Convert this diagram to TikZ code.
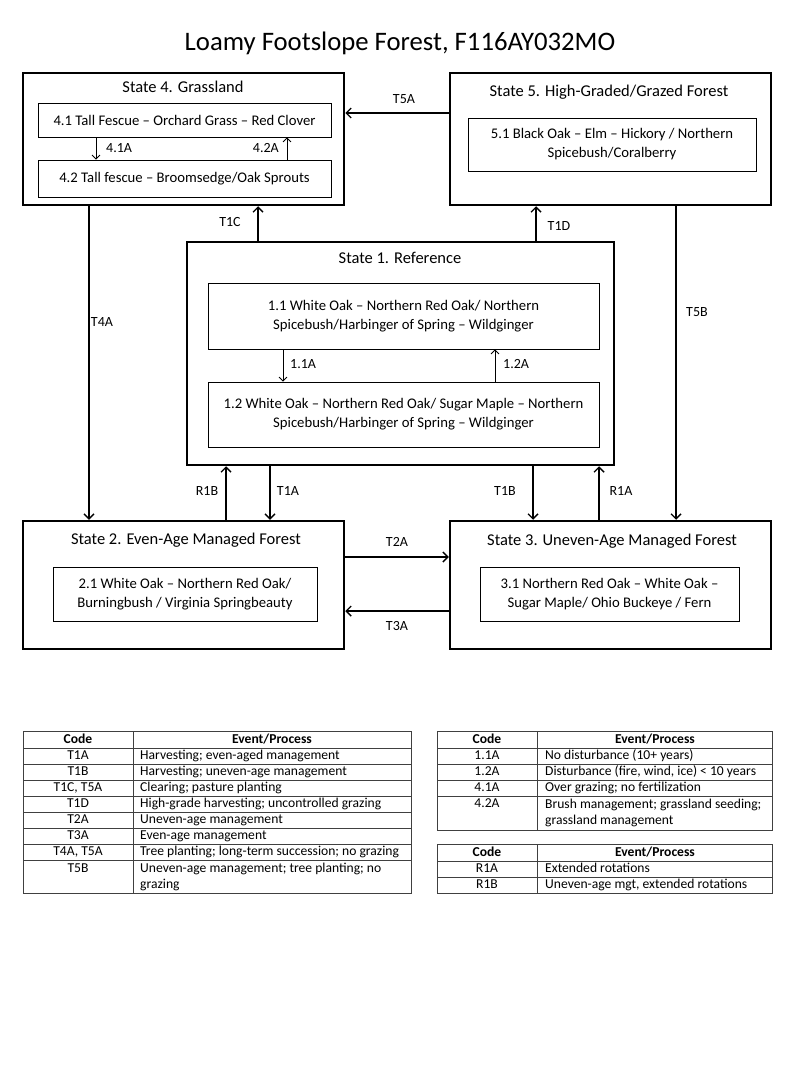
\documentclass[tikz,border=0pt]{standalone}
\usepackage{fontspec}
\setmainfont{Carlito}
\usetikzlibrary{arrows.meta}
\begin{document}
\begin{tikzpicture}[x=1pt,y=-1pt,
  statebox/.style={draw,line width=2.5pt,inner sep=0pt},
  phasebox/.style={draw,line width=0.8pt,align=center,inner sep=0pt,font=\fontsize{14.7}{19}\selectfont},
  statetitle/.style={font=\fontsize{16.5}{19}\selectfont,inner sep=0pt,text height=11pt,text depth=3.5pt},
  bigarrow/.style={line width=1.4pt,-{Straight Barb[length=5pt,width=10pt,line width=1.4pt]}},
  smallarrow/.style={line width=0.8pt,-{Straight Barb[length=4pt,width=8pt,line width=0.8pt]}},
  lbl/.style={font=\fontsize{14}{16}\selectfont,inner sep=0pt,text height=9.5pt,text depth=3pt},
  grid/.style={line width=0.9pt,draw=black!75},
  codecell/.style={font=\fontsize{13.6}{16}\selectfont,inner sep=0pt,text height=9.5pt,text depth=3pt},
  evcell/.style={font=\fontsize{13.6}{16}\selectfont,inner sep=0pt,anchor=west,text height=9.5pt,text depth=3pt},
  evcelltwo/.style={font=\fontsize{13.6}{16}\selectfont,inner sep=0pt,anchor=north west,align=left},
  headcell/.style={font=\bfseries\fontsize{13.6}{16}\selectfont,inner sep=0pt,text height=9.5pt,text depth=3pt}
]
\useasboundingbox (0,0) rectangle (800,1067);
\fill[white] (0,0) rectangle (800,1067);

% title
\node[font=\fontsize{26.7}{30}\selectfont,inner sep=0pt] (title) at (400,43) {Loamy Footslope Forest, F116AY032MO};

% states
\node[statebox,minimum width=321pt,minimum height=132pt] (s4) at (183.5,139) {};
\node[statebox,minimum width=321pt,minimum height=132pt] (s5) at (610.5,139) {};
\node[statebox,minimum width=427pt,minimum height=223pt] (s1) at (400.5,353.5) {};
\node[statebox,minimum width=321pt,minimum height=128pt] (s2) at (183.5,585) {};
\node[statebox,minimum width=321pt,minimum height=128pt] (s3) at (610.5,585) {};

\node[statetitle] (s4t) at (183,89) {State 4. Grassland};
\node[statetitle] (s5t) at (609,93) {State 5. High-Graded/Grazed Forest};
\node[statetitle] (s1t) at (400,260) {State 1. Reference};
\node[statetitle] (s2t) at (186,541) {State 2. Even-Age Managed Forest};
\node[statetitle] (s3t) at (612,542) {State 3. Uneven-Age Managed Forest};

% phases
\node[phasebox,minimum width=293pt,minimum height=34pt] (p41) at (184.5,120) {4.1 Tall Fescue -- Orchard Grass -- Red Clover};
\node[phasebox,minimum width=293pt,minimum height=37pt] (p42) at (184.5,178.5) {4.2 Tall fescue -- Broomsedge/Oak Sprouts};
\node[phasebox,minimum width=288pt,minimum height=53pt] (p51) at (612,144.5) {5.1 Black Oak -- Elm -- Hickory / Northern\\Spicebush/Coralberry};
\node[phasebox,minimum width=391pt,minimum height=66pt] (p11) at (403.5,316) {1.1 White Oak -- Northern Red Oak/ Northern\\Spicebush/Harbinger of Spring -- Wildginger};
\node[phasebox,minimum width=391pt,minimum height=65pt] (p12) at (403.5,414.5) {1.2 White Oak -- Northern Red Oak/ Sugar Maple -- Northern\\Spicebush/Harbinger of Spring -- Wildginger};
\node[phasebox,minimum width=264pt,minimum height=54pt] (p21) at (185,594) {2.1 White Oak -- Northern Red Oak/\\Burningbush / Virginia Springbeauty};
\node[phasebox,minimum width=259pt,minimum height=54pt] (p31) at (609.5,594) {3.1 Northern Red Oak -- White Oak --\\Sugar Maple/ Ohio Buckeye / Fern};

% phase transitions
\draw[smallarrow] (p41.south -| 96,0) -- (p42.north -| 96,0);
\node[lbl,anchor=west] (l41) at (106,149) {4.1A};
\draw[smallarrow] (p42.north -| 287,0) -- (p41.south -| 287,0);
\node[lbl,anchor=east] (l42) at (279,149) {4.2A};
\draw[smallarrow] (p11.south -| 283,0) -- (p12.north -| 283,0);
\node[lbl,anchor=west] (l11) at (290,365) {1.1A};
\draw[smallarrow] (p12.north -| 495,0) -- (p11.south -| 495,0);
\node[lbl,anchor=west] (l12) at (503,365) {1.2A};

% state transitions
\draw[bigarrow] (s5.west |- 0,113) -- (s4.east |- 0,113);
\node[lbl] (lt5a) at (404,100) {T5A};
\draw[bigarrow] (s1.north -| 258,0) -- (s4.south -| 258,0);
\node[lbl] (lt1c) at (230,223) {T1C};
\draw[bigarrow] (s1.north -| 536,0) -- (s5.south -| 536,0);
\node[lbl] (lt1d) at (559,227) {T1D};
\draw[bigarrow] (s4.south -| 89,0) -- (s2.north -| 89,0);
\node[lbl] (lt4a) at (102,323) {T4A};
\draw[bigarrow] (s5.south -| 676,0) -- (s3.north -| 676,0);
\node[lbl] (lt5b) at (697,313) {T5B};
\draw[bigarrow] (s2.north -| 226,0) -- (s1.south -| 226,0);
\node[lbl] (lr1b) at (207,492) {R1B};
\draw[bigarrow] (s1.south -| 270,0) -- (s2.north -| 270,0);
\node[lbl] (lt1a) at (288,492) {T1A};
\draw[bigarrow] (s1.south -| 533,0) -- (s3.north -| 533,0);
\node[lbl] (lt1b) at (505,492) {T1B};
\draw[bigarrow] (s3.north -| 599,0) -- (s1.south -| 599,0);
\node[lbl] (lr1a) at (621,492) {R1A};
\draw[bigarrow] (s2.east |- 0,557) -- (s3.west |- 0,557);
\node[lbl] (lt2a) at (397,543) {T2A};
\draw[bigarrow] (s3.west |- 0,611) -- (s2.east |- 0,611);
\node[lbl] (lt3a) at (397,627) {T3A};

% left table
\draw[grid] (23,731) rectangle (411,893);
\foreach \yy in {748,764,780,796,812,828,844,860} \draw[grid] (23,\yy) -- (411,\yy);
\draw[grid] (133,731) -- (133,893);
\node[headcell] (lh1) at (78,740) {Code};
\node[headcell] (lh2) at (272,740) {Event/Process};
\node[codecell] (lc1) at (78,756.5) {T1A};
\node[evcell] (le1) at (140,756.5) {Harvesting; even-aged management};
\node[codecell] (lc2) at (78,772.5) {T1B};
\node[evcell] (le2) at (140,772.5) {Harvesting; uneven-age management};
\node[codecell] (lc3) at (78,788.5) {T1C, T5A};
\node[evcell] (le3) at (140,788.5) {Clearing; pasture planting};
\node[codecell] (lc4) at (78,804.5) {T1D};
\node[evcell] (le4) at (140,804.5) {High-grade harvesting; uncontrolled grazing};
\node[codecell] (lc5) at (78,820.5) {T2A};
\node[evcell] (le5) at (140,820.5) {Uneven-age management};
\node[codecell] (lc6) at (78,836.5) {T3A};
\node[evcell] (le6) at (140,836.5) {Even-age management};
\node[codecell] (lc7) at (78,852.5) {T4A, T5A};
\node[evcell] (le7) at (140,852.5) {Tree planting; long-term succession; no grazing};
\node[codecell] (lc8) at (78,869) {T5B};
\node[evcelltwo] (le8) at (140,862.5) {Uneven-age management; tree planting; no\\grazing};

% right table 1
\draw[grid] (437,731) rectangle (772,830);
\foreach \yy in {748,764,780,796} \draw[grid] (437,\yy) -- (772,\yy);
\draw[grid] (537,731) -- (537,830);
\node[headcell] (rh1) at (487,740) {Code};
\node[headcell] (rh2) at (655,740) {Event/Process};
\node[codecell] (rc1) at (487,756.5) {1.1A};
\node[evcell] (re1) at (545,756.5) {No disturbance (10+ years)};
\node[codecell] (rc2) at (487,772.5) {1.2A};
\node[evcell] (re2) at (545,772.5) {Disturbance (fire, wind, ice) < 10 years};
\node[codecell] (rc3) at (487,788.5) {4.1A};
\node[evcell] (re3) at (545,788.5) {Over grazing; no fertilization};
\node[codecell] (rc4) at (487,804.5) {4.2A};
\node[evcelltwo] (re4) at (545,798.5) {Brush management; grassland seeding;\\grassland management};

% right table 2
\draw[grid] (437,844) rectangle (772,893);
\foreach \yy in {861,877} \draw[grid] (437,\yy) -- (772,\yy);
\draw[grid] (537,844) -- (537,893);
\node[headcell] (qh1) at (487,853) {Code};
\node[headcell] (qh2) at (655,853) {Event/Process};
\node[codecell] (qc1) at (487,869.5) {R1A};
\node[evcell] (qe1) at (545,869.5) {Extended rotations};
\node[codecell] (qc2) at (487,885.5) {R1B};
\node[evcell] (qe2) at (545,885.5) {Uneven-age mgt, extended rotations};
\end{tikzpicture}
\end{document}
